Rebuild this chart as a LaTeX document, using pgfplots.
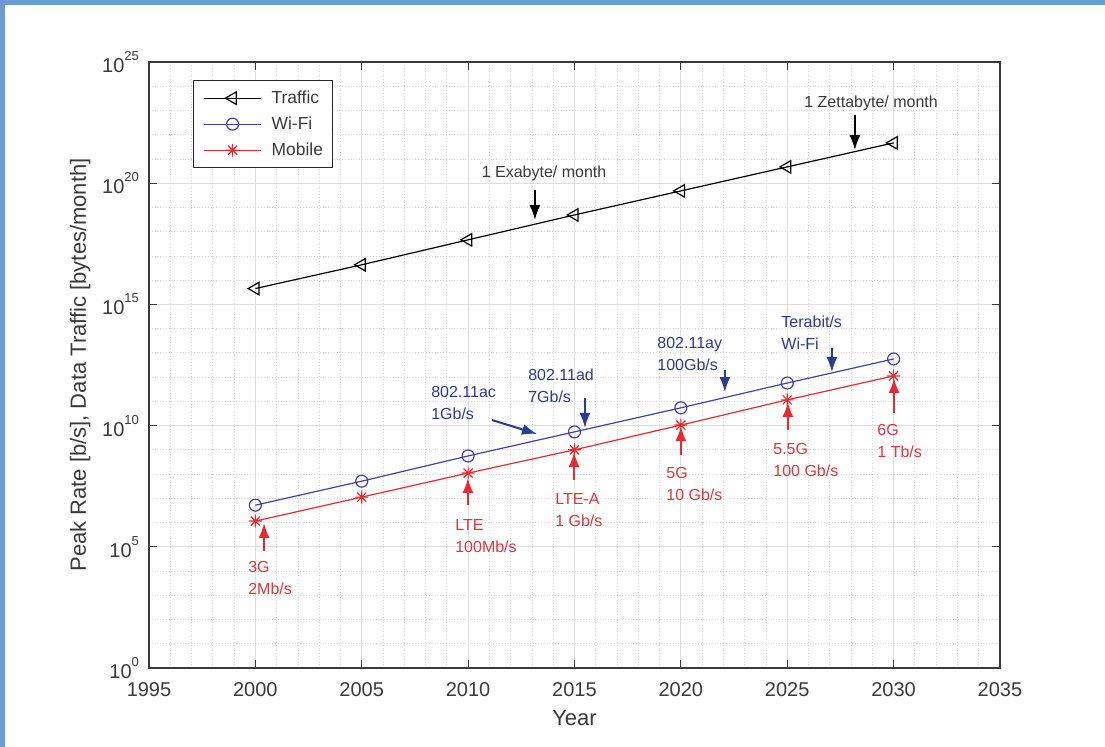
\documentclass[border=0pt]{standalone}
\usepackage{fontspec}
\setmainfont{Liberation Sans}
\usepackage{pgfplots}
\pgfplotsset{compat=1.18}
\usetikzlibrary{arrows.meta}
\definecolor{axgray}{HTML}{3A3A3A}
\definecolor{wifiblue}{RGB}{64,66,165}
\definecolor{txtblue}{RGB}{45,58,145}
\definecolor{mobred}{RGB}{236,40,45}
\definecolor{txtred}{RGB}{226,52,60}
\definecolor{border}{HTML}{6C9BD2}
\newcommand\tp[1]{10\raisebox{6pt}{\fontsize{6.5}{6.5}\selectfont #1}}
\pgfdeclareplotmark{mstar}{%
  \pgfpathmoveto{\pgfqpoint{-\pgfplotmarksize}{0pt}}%
  \pgfpathlineto{\pgfqpoint{\pgfplotmarksize}{0pt}}%
  \pgfpathmoveto{\pgfqpoint{0pt}{-\pgfplotmarksize}}%
  \pgfpathlineto{\pgfqpoint{0pt}{\pgfplotmarksize}}%
  \pgfpathmoveto{\pgfqpoint{-0.707\pgfplotmarksize}{-0.707\pgfplotmarksize}}%
  \pgfpathlineto{\pgfqpoint{0.707\pgfplotmarksize}{0.707\pgfplotmarksize}}%
  \pgfpathmoveto{\pgfqpoint{-0.707\pgfplotmarksize}{0.707\pgfplotmarksize}}%
  \pgfpathlineto{\pgfqpoint{0.707\pgfplotmarksize}{-0.707\pgfplotmarksize}}%
  \pgfusepathqstroke}
\pgfplotsset{
  legend image code/.code={\draw[mark repeat=2,mark phase=2,#1] plot coordinates {(0pt,0pt) (14.25pt,0pt) (28.5pt,0pt)};}
}
\tikzset{
  ann/.style={font=\fontsize{8}{11}\selectfont, align=left, inner sep=0pt, anchor=west},
  arr/.style={line width=1pt, -{Latex[length=7.5pt,width=5.5pt]}}
}
\begin{document}
\begin{tikzpicture}
\begin{axis}[
  at={(0,0)}, anchor=south west,
  scale only axis, width=425.5pt, height=303pt,
  xmin=1995, xmax=2035, ymode=log, ymin=1, ymax=1e25,
  xtick={1995,2000,2005,2010,2015,2020,2025,2030,2035},
  xticklabels={1995,2000,2005,2010,2015,2020,2025,2030,2035},
  minor x tick num=4,
  ytick={1,1e5,1e10,1e15,1e20,1e25},
  yticklabels={\tp{0},\tp{5},\tp{10},\tp{15},\tp{20},\tp{25}},
  minor ytick={1e1,1e2,1e3,1e4,1e6,1e7,1e8,1e9,1e11,1e12,1e13,1e14,1e16,1e17,1e18,1e19,1e21,1e22,1e23,1e24},
  grid=both,
  major grid style={color=black!13, line width=0.4pt},
  minor grid style={color=black!15, densely dotted, line width=0.4pt},
  minor tick length=0pt,
  major tick length=4pt,
  tick align=inside,
  tick style={axgray, line width=0.5pt},
  axis line style={axgray, line width=0.6pt},
  xticklabel style={font=\fontsize{10}{12}\selectfont, text=axgray, yshift=-3.5pt},
  yticklabel style={font=\fontsize{10}{12}\selectfont, text=axgray, xshift=-1.5pt},
  xlabel={Year},
  ylabel={Peak Rate [b/s], Data Traffic [bytes/month]},
  label style={font=\fontsize{11}{13}\selectfont, text=axgray},
  xlabel style={at={(axis description cs:0.5,-0.0825)}, anchor=center},
  ylabel style={at={(axis description cs:-0.081,0.5)}, anchor=center},
  legend style={at={(axis description cs:0.0517,0.970)}, anchor=north west,
    draw=black!85, line width=0.5pt, fill=white,
    font=\fontsize{8.7}{10}\selectfont, text=axgray,
    inner xsep=5pt, inner ysep=4.75pt, row sep=5pt,
    nodes={inner ysep=0pt, inner xsep=0pt, text height=6.5pt, text depth=1.5pt},
    /tikz/every even column/.append style={column sep=3pt},
    /tikz/every odd column/.append style={column sep=5pt}},
  legend cell align=left,
]
\addplot[black, line width=0.6pt, mark=triangle, mark size=3.6pt, mark options={rotate=90, solid}]
  coordinates {(2000,4.5e15) (2005,4.3e16) (2010,4.6e17) (2015,4.9e18) (2020,4.8e19) (2025,4.7e20) (2030,4.6e21)};
\addlegendentry{Traffic}
\addplot[wifiblue, line width=0.6pt, mark=o, mark size=3pt]
  coordinates {(2000,5.2e6) (2005,5.1e7) (2010,5.6e8) (2015,5.5e9) (2020,5.4e10) (2025,5.7e11) (2030,5.6e12)};
\addlegendentry{Wi-Fi}
\addplot[mobred, line width=0.6pt, mark=mstar, mark size=3.2pt]
  coordinates {(2000,1.15e6) (2005,1.12e7) (2010,1.1e8) (2015,1.0e9) (2020,1.05e10) (2025,1.15e11) (2030,1.12e12)};
\addlegendentry{Mobile}

% black annotations
\node[font=\fontsize{8}{10}\selectfont, text=axgray, inner sep=0pt] at (axis cs:2013.57,2.6e20) {1 Exabyte/ month};
\draw[arr, black] (axis cs:2013.14,5.2e19) -- (axis cs:2013.14,3.0e18);
\node[font=\fontsize{8}{10}\selectfont, text=axgray, inner sep=0pt] at (axis cs:2028.94,2.0e23) {1 Zettabyte/ month};
\draw[arr, black] (axis cs:2028.18,6.5e22) -- (axis cs:2028.18,2.3e21);

% blue annotations
\node[ann, text=txtblue] at (axis cs:2008.25,8.5e10) {802.11ac\\1Gb/s};
\draw[arr, txtblue] (axis cs:2011.12,1.7e10) -- (axis cs:2013.24,4.5e9);
\node[ann, text=txtblue] at (axis cs:2012.81,4.3e11) {802.11ad\\7Gb/s};
\draw[arr, txtblue] (axis cs:2015.49,1.4e11) -- (axis cs:2015.49,8e9);
\node[ann, text=txtblue] at (axis cs:2018.88,9e12) {802.11ay\\100Gb/s};
\draw[arr, txtblue] (axis cs:2022.07,2e12) -- (axis cs:2022.07,2.4e11);
\node[ann, text=txtblue] at (axis cs:2024.71,6.6e13) {Terabit/s\\Wi-Fi};
\draw[arr, txtblue] (axis cs:2027.1,1.6e13) -- (axis cs:2027.1,1.6e12);

% red annotations
\node[ann, text=txtred] at (axis cs:1999.65,5.1e3) {3G\\2Mb/s};
\draw[arr, mobred] (axis cs:2000.41,6.7e4) -- (axis cs:2000.41,9.6e5);
\node[ann, text=txtred] at (axis cs:2009.38,2.8e5) {LTE\\100Mb/s};
\draw[arr, mobred] (axis cs:2009.99,5.3e6) -- (axis cs:2009.99,6.9e7);
\node[ann, text=txtred] at (axis cs:2014.08,3.3e6) {LTE-A\\1 Gb/s};
\draw[arr, mobred] (axis cs:2014.98,5.7e7) -- (axis cs:2014.98,8.1e8);
\node[ann, text=txtred] at (axis cs:2019.3,3.9e7) {5G\\10 Gb/s};
\draw[arr, mobred] (axis cs:2020.0,6.1e8) -- (axis cs:2020.0,9.6e9);
\node[ann, text=txtred] at (axis cs:2024.33,3.8e8) {5.5G\\100 Gb/s};
\draw[arr, mobred] (axis cs:2025.03,6.6e9) -- (axis cs:2025.03,9.4e10);
\node[ann, text=txtred] at (axis cs:2029.22,2.3e9) {6G\\1 Tb/s};
\draw[arr, mobred] (axis cs:2030.02,3.3e10) -- (axis cs:2030.02,9.2e11);
\end{axis}
\fill[border] (-74.5pt,-39.5pt) rectangle (-72pt,334pt);
\fill[border] (-74.5pt,331.5pt) rectangle (478pt,334pt);
\pgfresetboundingbox
\useasboundingbox (-74.5pt,-39.5pt) rectangle (478pt,334pt);
\end{tikzpicture}
\end{document}
